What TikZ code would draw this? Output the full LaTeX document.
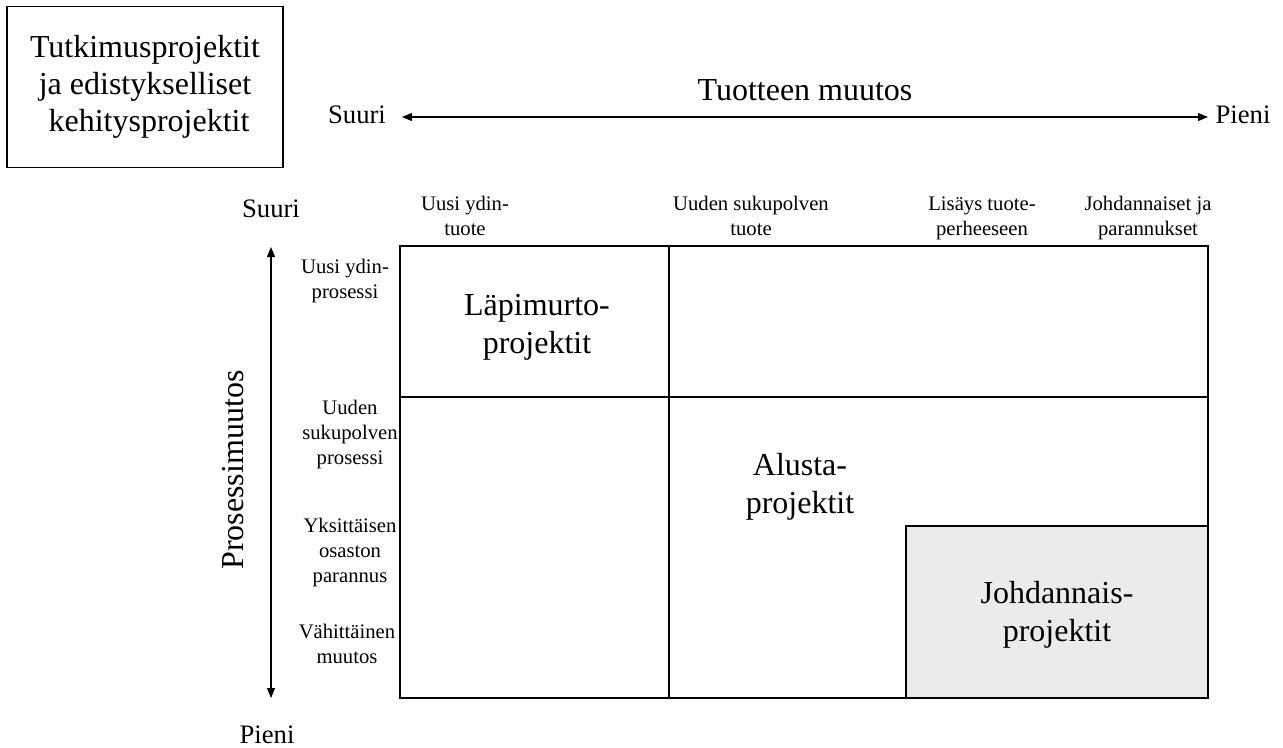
\documentclass[tikz,border=0pt]{standalone}
\usepackage{fontspec}
\setmainfont{Liberation Serif}
\usetikzlibrary{arrows.meta}
\definecolor{shade}{HTML}{EBEBEB}
\tikzset{
  big/.style={font=\fontsize{24pt}{28pt}\selectfont, align=center, inner sep=0pt},
  mid/.style={font=\fontsize{20pt}{24pt}\selectfont, align=center, inner sep=0pt},
  small/.style={font=\fontsize{15.5pt}{18.75pt}\selectfont, align=center, inner sep=0pt},
  frame/.style={draw, line width=1.4pt},
  axis/.style={line width=0.8pt, {Triangle[length=7.5pt,width=6pt]}-{Triangle[length=7.5pt,width=6pt]}}
}
\begin{document}
\begin{tikzpicture}[x=0.75pt, y=-0.75pt]
\useasboundingbox (0,0) rectangle (1283,747);

% research box
\node[frame, big, minimum width=207pt, minimum height=120.75pt] (research) at (145,87)
  {\strut Tutkimusprojektit\\ja edistykselliset\\\ kehitysprojektit\strut};

% product change axis
\node[mid] (psuuri) at (357,115) {Suuri};
\node[mid] (ppieni) at (1243,115) {Pieni};
\node[big] (ptitle) at (805,90) {Tuotteen muutos};
\coordinate (hl) at (402,117);
\coordinate (hr) at (1208,117);
\draw[axis] (hl) -- (hr);

% process change axis
\node[mid] (vsuuri) at (271,209) {Suuri};
\node[mid] (vpieni) at (267,735) {Pieni};
\node[big, rotate=90] (vtitle) at (233,470) {Prosessimuutos};
\coordinate (vt) at (271,247);
\coordinate (vb) at (271,698);
\draw[axis] (vt) -- (vb);

% matrix
\coordinate (g1) at (400,246);
\coordinate (g2) at (1208,698);
\coordinate (c1) at (669,246);
\coordinate (c2) at (669,698);
\coordinate (r1) at (400,397);
\coordinate (r2) at (1208,397);
\coordinate (s1) at (906,526);
\draw[frame, fill=shade] (s1) rectangle (g2);
\draw[frame] (g1) rectangle (g2);
\draw[frame] (c1) -- (c2);
\draw[frame] (r1) -- (r2);

% column headings
\node[small] (col1) at (465,218) {\strut Uusi ydin-\\tuote\strut};
\node[small] (col2) at (751,218) {\strut Uuden sukupolven\\tuote\strut};
\node[small] (col3) at (982,218) {\strut Lisäys tuote-\\perheeseen\strut};
\node[small] (col4) at (1148,218) {\strut Johdannaiset ja\\parannukset\strut};

% row headings
\node[small] (row1) at (345,281) {\strut Uusi ydin-\\prosessi\strut};
\node[small] (row2) at (350,434) {\strut Uuden\\sukupolven\\prosessi\strut};
\node[small] (row3) at (350,552) {\strut Yksittäisen\\osaston\\parannus\strut};
\node[small] (row4) at (347,646) {\strut Vähittäinen\\muutos\strut};

% project types
\node[big] (breakthrough) at (537,327) {\strut Läpimurto-\\projektit\strut};
\node[big] (platform) at (800,487) {\strut Alusta-\\projektit\strut};
\node[big] (derivative) at (1057,615) {\strut Johdannais-\\projektit\strut};
\end{tikzpicture}
\end{document}
